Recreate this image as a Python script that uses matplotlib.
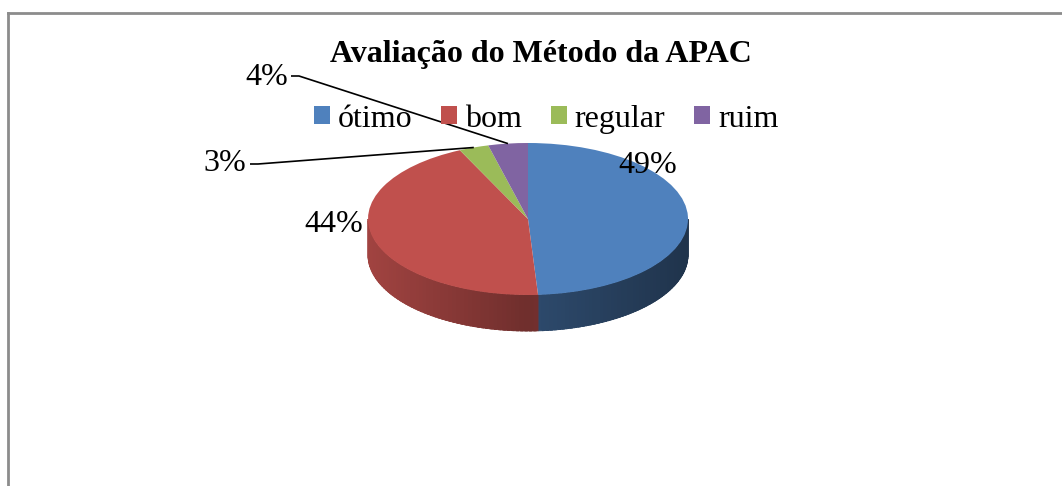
"""Avaliacao do Metodo da APAC - pizza 3D"""

import numpy as np
import matplotlib
matplotlib.use('Agg')
from matplotlib import pyplot as plt
from matplotlib.patches import Polygon, Rectangle
from matplotlib.colors import to_rgb

categorias = ['ótimo', 'bom', 'regular', 'ruim']
valores = [49, 44, 3, 4]
cores = ['#4F81BD', '#C0504D', '#9BBB59', '#8064A2']
titulo = 'Avaliação do Método da APAC'

plt.rcParams['font.family'] = ['Liberation Serif', 'DejaVu Serif']

W, H = 1062, 486
fig = plt.figure(figsize=(W / 100, H / 100), dpi=100)
ax = fig.add_axes([0, 0, 1, 1])

# pie geometry in pixels: center, radii, depth
cx, cy = 528, 219
rx, ry = 160, 76
depth = 36 / ry

# slice angles (clockwise from 12 o'clock)
fr = np.array(valores, dtype=float) / sum(valores)
ends = 90 - 360 * np.cumsum(fr)
starts = np.concatenate([[90], ends[:-1]])


def shade(c, f):
    r, g, b = to_rgb(c)
    return (r * f, g * f, b * f)


# side wall, only the front half (angles between 180 and 360)
for s, e, c in zip(starts, ends, cores):
    a1, a2 = e % 360, s % 360
    if a2 < a1:
        a2 += 360
    lo, hi = max(a1, 180), min(a2, 360)
    if hi <= lo:
        continue
    ts = np.linspace(lo, hi, 60)
    for t0, t1 in zip(ts[:-1], ts[1:]):
        tm = np.radians((t0 + t1) / 2)
        if c == '#4F81BD':
            f = 0.58 - 0.18 * np.cos(tm)
        else:
            f = 0.84 - 0.26 * (1 - abs(np.cos(tm)))
        tt = np.radians(np.linspace(t0, min(t1 + 1.0, hi), 4))
        xs = np.cos(tt)
        ys = np.sin(tt)
        pts = np.column_stack([np.concatenate([xs, xs[::-1]]),
                               np.concatenate([ys, ys[::-1] - depth])])
        col = shade(c, f)
        ax.add_patch(Polygon(pts, closed=True, facecolor=col,
                             edgecolor=col, lw=0.6, zorder=1))

# top face
ax.pie(valores, colors=cores, startangle=90, counterclock=False,
       radius=1, wedgeprops=dict(linewidth=0), frame=True)
ax.set_aspect('auto')
ax.set_xlim(-cx / rx, (W - cx) / rx)
ax.set_ylim((cy - H) / ry, cy / ry)
ax.axis('off')
for p in ax.patches[-4:]:
    p.set_zorder(2)

# data labels
rotulos = ['%d%%' % round(v) for v in fr * 100]
mids = np.radians((starts + ends) / 2)


def px(x, y):
    return (x - cx) / rx, (cy - y) / ry


lab_pos = [(648, 165), (334, 224), (225, 163), (267, 77)]
for i, (lx, ly) in enumerate(lab_pos):
    x, y = px(lx, ly)
    ax.text(x, y, rotulos[i], fontsize=23, ha='center', va='center', zorder=5)

# leader lines for the two small slices
for i, (lx, ly) in zip([2, 3], [(250, 164), (291, 76)]):
    x0, y0 = px(lx, ly)
    x1, y1 = px(lx + 8, ly)
    ax.plot([x0, x1, np.cos(mids[i])], [y0, y1, np.sin(mids[i])],
            color='black', lw=1.2, zorder=4, solid_capstyle='butt')

# title
fig.text(541 / W, 1 - 54 / H, titulo, fontsize=23, fontweight='bold',
         ha='center', va='center')

# legend
handles = [Rectangle((0, 0), 1, 1, facecolor=c, edgecolor='none') for c in cores]
fig.legend(handles, categorias, loc='center', bbox_to_anchor=(546 / W, 1 - 119 / H),
           ncol=4, frameon=False, fontsize=23, handlelength=0.5, handleheight=0.5,
           handletextpad=0.25, columnspacing=0.9, borderpad=0)

# chart border
fig.add_artist(plt.Line2D([8 / W, 8 / W], [0, 1 - 13 / H], transform=fig.transFigure,
                          color='#8c8c8c', lw=2))
fig.add_artist(plt.Line2D([8 / W, 1], [1 - 13 / H, 1 - 13 / H], transform=fig.transFigure,
                          color='#8c8c8c', lw=2))

fig.savefig('out.png', dpi=100)
